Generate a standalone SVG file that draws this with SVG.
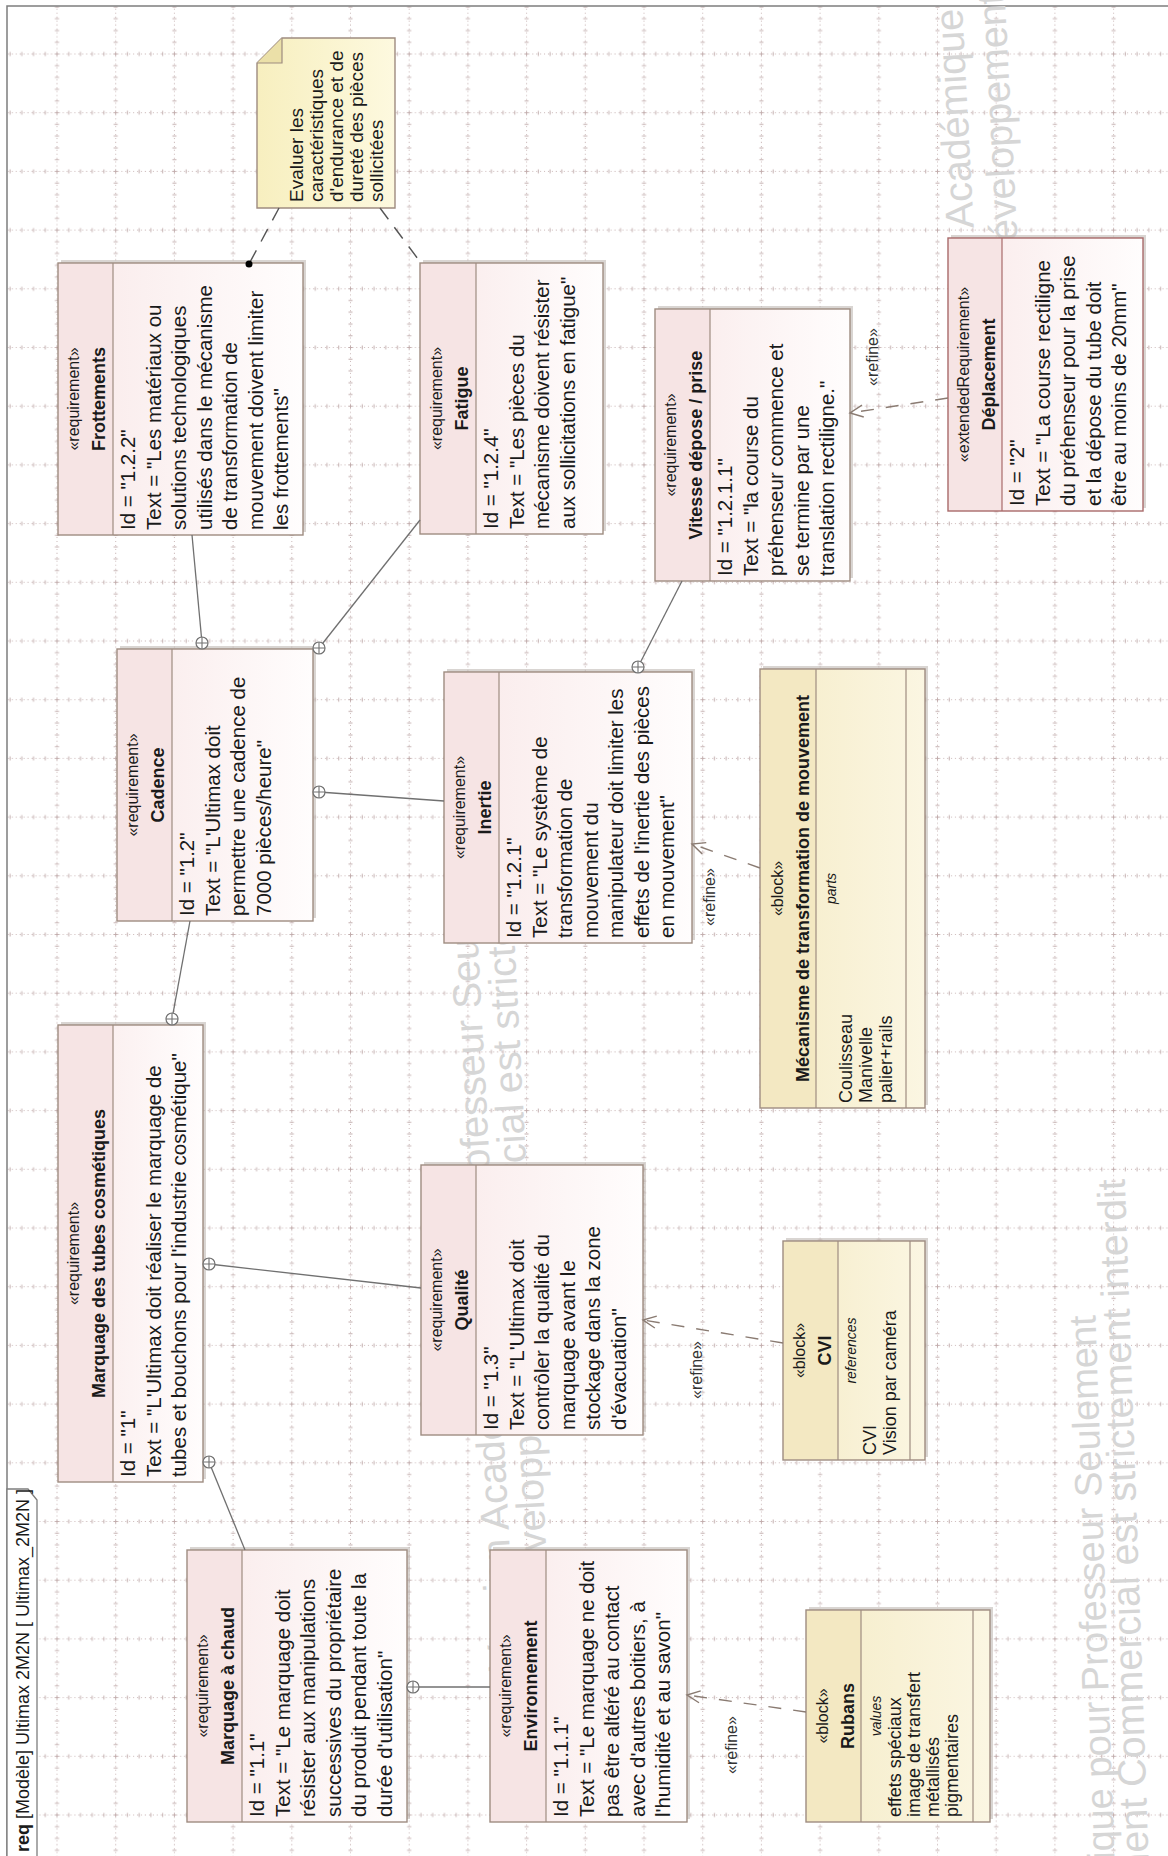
<svg xmlns="http://www.w3.org/2000/svg" width="1168" height="1856" viewBox="0 0 1168 1856">
<defs>
<style>
text{font-family:"Liberation Sans",Arial,sans-serif;fill:#1a1a1a}
.st{font-size:16px;text-anchor:middle}
.nm{font-size:18px;font-weight:bold;text-anchor:middle}
.bd{font-size:20.5px}
.bi{font-size:18px}
.cl{font-size:14px;font-style:italic;text-anchor:middle}
.nt{font-size:19px}
.rf{font-size:16px;text-anchor:middle;fill:#333}
.tab{font-size:18px}
.wm{font-size:39.5px;fill:#d6d6d6}
.box{stroke:#9e8c80;stroke-width:1.4;fill:none}
.sh{fill:#b9b2ad;opacity:.55}
.req{fill:url(#gReq)}
.reqT{fill:#f6e4e4}
.blk{fill:url(#gBlk)}
.blkT{fill:#f3e8c2}
.sep{stroke:#9e8c80;stroke-width:1.2}
.own{stroke:#707070;stroke-width:1.3;fill:none}
.ref{stroke:#8a7b72;stroke-width:1.4;fill:none;stroke-dasharray:13 12}
.anc{stroke:#555;stroke-width:1.4;fill:none;stroke-dasharray:14 10}
.cp{fill:#fff;stroke:#707070;stroke-width:1.2}
</style>
<pattern id="grid" patternUnits="userSpaceOnUse" x="27.65" y="24.65" width="58.7" height="58.7">
<path d="M0,29.35H58.7M29.35,0V58.7" stroke="#cbb9b9" stroke-width="1" stroke-dasharray="1 2.9" fill="none"/>
<path d="M5.87,27.35v4M17.61,27.35v4M41.09,27.35v4M52.83,27.35v4M27.35,5.87h4M27.35,17.61h4M27.35,41.09h4M27.35,52.83h4M27.35,29.35h4M29.35,27.35v4" stroke="#c2adad" stroke-width="1" fill="none"/>
</pattern>
<linearGradient id="gReq" x1="0" y1="0" x2="0" y2="1">
<stop offset="0" stop-color="#f9e9e9"/><stop offset="1" stop-color="#fffdfd"/>
</linearGradient>
<linearGradient id="gBlk" x1="0" y1="0" x2="0" y2="1">
<stop offset="0" stop-color="#f5ecc8"/><stop offset="1" stop-color="#fbf6e2"/>
</linearGradient>
<linearGradient id="gNote" x1="0" y1="0" x2="0" y2="1">
<stop offset="0" stop-color="#f7efbf"/><stop offset="1" stop-color="#fdf9df"/>
</linearGradient>
<marker id="arr" markerWidth="16" markerHeight="14" refX="14" refY="7" orient="auto" markerUnits="userSpaceOnUse">
<path d="M1,1L14,7L1,13" fill="none" stroke="#8a7b72" stroke-width="1.4"/>
</marker>
<g id="cplus"><circle r="6" class="cp"/><path d="M-6,0H6M0,-6V6" stroke="#707070" stroke-width="1.1"/></g>
</defs>
<rect width="1168" height="1856" fill="#fff"/>
<rect x="7" y="6" width="1161" height="1850" fill="url(#grid)"/>
<g transform="translate(0,1856) rotate(-90)">
<g id="frame">
<rect x="-10" y="7" width="1860" height="1200" fill="none" stroke="#7d7d7d" stroke-width="1.5"/>
<path d="M-10,37H356L367,28V7H-10Z" fill="#fff" stroke="#7d7d7d" stroke-width="1.3"/>
<text class="tab" x="4" y="29"><tspan font-weight="bold">req</tspan> [Modèle] Ultimax 2M2N [ Ultimax_2M2N ]</text>
</g>
<g id="watermark">
<text class="wm" transform="translate(186,516) rotate(-3)">Version Académique pour Professeur Seulement</text>
<text class="wm" transform="translate(255,549) rotate(-3)">Développement Commercial est strictement interdit</text>
<text class="wm" transform="translate(-278,1124) rotate(-2)" style="font-size:38px">Version Académique pour Professeur Seulement</text>
<text class="wm" transform="translate(-218,1156) rotate(-2)">Développement Commercial est strictement interdit</text>
<text class="wm" transform="translate(1488,981) rotate(-3)">Version Académique pour Professeur Seulement</text>
<text class="wm" transform="translate(1587,1019) rotate(-3)">Développement Commercial est strictement interdit</text>
</g>

<g id="frottements">
<rect class="sh" x="1324" y="61" width="272" height="245"/>
<rect class="req" x="1321" y="58" width="272" height="245"/>
<rect class="reqT" x="1321.7" y="58.7" width="270.6" height="54.3"/>
<rect class="box" x="1321" y="58" width="272" height="245"/>
<line class="sep" x1="1321" y1="113" x2="1593" y2="113"/>
<text class="st" x="1457" y="79">«requirement»</text>
<text class="nm" x="1457" y="105">Frottements</text>
<text class="bd" x="1326" y="135">Id = "1.2.2"<tspan x="1326" dy="25.5">Text = "Les matériaux ou</tspan><tspan x="1326" dy="25.5">solutions technologiques</tspan><tspan x="1326" dy="25.5">utilisés dans le mécanisme</tspan><tspan x="1326" dy="25.5">de transformation de</tspan><tspan x="1326" dy="25.5">mouvement doivent limiter</tspan><tspan x="1326" dy="25.5">les frottements"</tspan></text>
</g>

<g id="fatigue">
<rect class="sh" x="1325" y="423" width="271" height="183"/>
<rect class="req" x="1322" y="420" width="271" height="183"/>
<rect class="reqT" x="1322.7" y="420.7" width="269.6" height="55.3"/>
<rect class="box" x="1322" y="420" width="271" height="183"/>
<line class="sep" x1="1322" y1="476" x2="1593" y2="476"/>
<text class="st" x="1457.5" y="442">«requirement»</text>
<text class="nm" x="1457.5" y="468">Fatigue</text>
<text class="bd" x="1327" y="498">Id = "1.2.4"<tspan x="1327" dy="25.5">Text = "Les pièces du</tspan><tspan x="1327" dy="25.5">mécanisme doivent résister</tspan><tspan x="1327" dy="25.5">aux sollicitations en fatigue"</tspan></text>
</g>

<g id="vitesse">
<rect class="sh" x="1278" y="658" width="272" height="195"/>
<rect class="req" x="1275" y="655" width="272" height="195"/>
<rect class="reqT" x="1275.7" y="655.7" width="270.6" height="54.3"/>
<rect class="box" x="1275" y="655" width="272" height="195"/>
<line class="sep" x1="1275" y1="710" x2="1547" y2="710"/>
<text class="st" x="1411" y="676">«requirement»</text>
<text class="nm" x="1411" y="702">Vitesse dépose / prise</text>
<text class="bd" x="1280" y="732">Id = "1.2.1.1"<tspan x="1280" dy="25.5">Text = "la course du</tspan><tspan x="1280" dy="25.5">préhenseur commence et</tspan><tspan x="1280" dy="25.5">se termine par une</tspan><tspan x="1280" dy="25.5">translation rectiligne."</tspan></text>
</g>

<g id="deplacement">
<rect class="sh" x="1348" y="951" width="273" height="195"/>
<rect class="req" x="1345" y="948" width="273" height="195"/>
<rect class="reqT" x="1345.7" y="948.7" width="271.6" height="53.3"/>
<rect class="box" x="1345" y="948" width="273" height="195" style="stroke:#a86a6a"/>
<line class="sep" x1="1345" y1="1002" x2="1618" y2="1002" style="stroke:#a86a6a"/>
<text class="st" x="1481.5" y="969">«extendedRequirement»</text>
<text class="nm" x="1481.5" y="995">Déplacement</text>
<text class="bd" x="1350" y="1024">Id = "2"<tspan x="1350" dy="25.5">Text = "La course rectiligne</tspan><tspan x="1350" dy="25.5">du préhenseur pour la prise</tspan><tspan x="1350" dy="25.5">et la dépose du tube doit</tspan><tspan x="1350" dy="25.5">être au moins de 20mm"</tspan></text>
</g>

<g id="cadence">
<rect class="sh" x="938" y="120" width="272" height="196"/>
<rect class="req" x="935" y="117" width="272" height="196"/>
<rect class="reqT" x="935.7" y="117.7" width="270.6" height="54.3"/>
<rect class="box" x="935" y="117" width="272" height="196"/>
<line class="sep" x1="935" y1="172" x2="1207" y2="172"/>
<text class="st" x="1071" y="138">«requirement»</text>
<text class="nm" x="1071" y="164">Cadence</text>
<text class="bd" x="940" y="194">Id = "1.2"<tspan x="940" dy="25.5">Text = "L'Ultimax doit</tspan><tspan x="940" dy="25.5">permettre une cadence de</tspan><tspan x="940" dy="25.5">7000 pièces/heure"</tspan></text>
</g>

<g id="inertie">
<rect class="sh" x="916" y="447" width="271" height="248"/>
<rect class="req" x="913" y="444" width="271" height="248"/>
<rect class="reqT" x="913.7" y="444.7" width="269.6" height="54.3"/>
<rect class="box" x="913" y="444" width="271" height="248"/>
<line class="sep" x1="913" y1="499" x2="1184" y2="499"/>
<text class="st" x="1048.5" y="465">«requirement»</text>
<text class="nm" x="1048.5" y="491">Inertie</text>
<text class="bd" x="918" y="521">Id = "1.2.1"<tspan x="918" dy="25.5">Text = "Le système de</tspan><tspan x="918" dy="25.5">transformation de</tspan><tspan x="918" dy="25.5">mouvement du</tspan><tspan x="918" dy="25.5">manipulateur doit limiter les</tspan><tspan x="918" dy="25.5">effets de l'inertie des pièces</tspan><tspan x="918" dy="25.5">en mouvement"</tspan></text>
</g>

<g id="marquage-tubes">
<rect class="sh" x="377" y="61" width="457" height="145"/>
<rect class="req" x="374" y="58" width="457" height="145"/>
<rect class="reqT" x="374.7" y="58.7" width="455.6" height="54.3"/>
<rect class="box" x="374" y="58" width="457" height="145"/>
<line class="sep" x1="374" y1="113" x2="831" y2="113"/>
<text class="st" x="602.5" y="79">«requirement»</text>
<text class="nm" x="602.5" y="105">Marquage des tubes cosmétiques</text>
<text class="bd" x="379" y="135">Id = "1"<tspan x="379" dy="25.5">Text = "L'Ultimax doit réaliser le marquage de</tspan><tspan x="379" dy="25.5">tubes et bouchons pour l'industrie cosmétique"</tspan></text>
</g>

<g id="qualite">
<rect class="sh" x="424" y="424" width="270" height="222"/>
<rect class="req" x="421" y="421" width="270" height="222"/>
<rect class="reqT" x="421.7" y="421.7" width="268.6" height="54.3"/>
<rect class="box" x="421" y="421" width="270" height="222"/>
<line class="sep" x1="421" y1="476" x2="691" y2="476"/>
<text class="st" x="556" y="442">«requirement»</text>
<text class="nm" x="556" y="468">Qualité</text>
<text class="bd" x="426" y="498">Id = "1.3"<tspan x="426" dy="25.5">Text = "L'Ultimax doit</tspan><tspan x="426" dy="25.5">contrôler la qualité du</tspan><tspan x="426" dy="25.5">marquage avant le</tspan><tspan x="426" dy="25.5">stockage dans la zone</tspan><tspan x="426" dy="25.5">d'évacuation"</tspan></text>
</g>

<g id="marquage-chaud">
<rect class="sh" x="37" y="190" width="272" height="220"/>
<rect class="req" x="34" y="187" width="272" height="220"/>
<rect class="reqT" x="34.7" y="187.7" width="270.6" height="54.3"/>
<rect class="box" x="34" y="187" width="272" height="220"/>
<line class="sep" x1="34" y1="242" x2="306" y2="242"/>
<text class="st" x="170" y="208">«requirement»</text>
<text class="nm" x="170" y="234">Marquage à chaud</text>
<text class="bd" x="39" y="264">Id = "1.1"<tspan x="39" dy="25.5">Text = "Le marquage doit</tspan><tspan x="39" dy="25.5">résister aux manipulations</tspan><tspan x="39" dy="25.5">successives du propriétaire</tspan><tspan x="39" dy="25.5">du produit pendant toute la</tspan><tspan x="39" dy="25.5">durée d'utilisation"</tspan></text>
</g>

<g id="environnement">
<rect class="sh" x="37" y="493" width="272" height="197"/>
<rect class="req" x="34" y="490" width="272" height="197"/>
<rect class="reqT" x="34.7" y="490.7" width="270.6" height="55.3"/>
<rect class="box" x="34" y="490" width="272" height="197"/>
<line class="sep" x1="34" y1="546" x2="306" y2="546"/>
<text class="st" x="170" y="511">«requirement»</text>
<text class="nm" x="170" y="537">Environnement</text>
<text class="bd" x="39" y="568">Id = "1.1.1"<tspan x="39" dy="25.5">Text = "Le marquage ne doit</tspan><tspan x="39" dy="25.5">pas être altéré au contact</tspan><tspan x="39" dy="25.5">avec d'autres boitiers, à</tspan><tspan x="39" dy="25.5">l'humidité et au savon"</tspan></text>
</g>

<g id="mecanisme">
<rect class="sh" x="751" y="763" width="439" height="165"/>
<rect class="blk" x="748" y="760" width="439" height="165"/>
<rect class="blkT" x="748.7" y="760.7" width="437.6" height="55.3"/>
<rect class="box" x="748" y="760" width="439" height="165"/>
<line class="sep" x1="748" y1="816" x2="1187" y2="816"/>
<line class="sep" x1="748" y1="906" x2="1187" y2="906"/>
<text class="st" x="967.5" y="783">«block»</text>
<text class="nm" x="967.5" y="809">Mécanisme de transformation de mouvement</text>
<text class="cl" x="967.5" y="836">parts</text>
<text class="bi" x="753" y="852">Coulisseau<tspan x="753" dy="20">Manivelle</tspan><tspan x="753" dy="20">palier+rails</tspan></text>
</g>

<g id="cvi">
<rect class="sh" x="399" y="786" width="219" height="142"/>
<rect class="blk" x="396" y="783" width="219" height="142"/>
<rect class="blkT" x="396.7" y="783.7" width="217.6" height="54.3"/>
<rect class="box" x="396" y="783" width="219" height="142"/>
<line class="sep" x1="396" y1="838" x2="615" y2="838"/>
<line class="sep" x1="396" y1="910" x2="615" y2="910"/>
<text class="st" x="505.5" y="805">«block»</text>
<text class="nm" x="505.5" y="831">CVI</text>
<text class="cl" x="505.5" y="856">references</text>
<text class="bi" x="401" y="876">CVI<tspan x="401" dy="20">Vision par caméra</tspan></text>
</g>

<g id="rubans">
<rect class="sh" x="37" y="809" width="212" height="184"/>
<rect class="blk" x="34" y="806" width="212" height="184"/>
<rect class="blkT" x="34.7" y="806.7" width="210.6" height="54.3"/>
<rect class="box" x="34" y="806" width="212" height="184"/>
<line class="sep" x1="34" y1="861" x2="246" y2="861"/>
<line class="sep" x1="34" y1="973" x2="246" y2="973"/>
<text class="st" x="140" y="828">«block»</text>
<text class="nm" x="140" y="854">Rubans</text>
<text class="cl" x="140" y="881">values</text>
<text class="bi" x="39" y="901">effets spéciaux<tspan x="39" dy="19">image de transfert</tspan><tspan x="39" dy="19">métallisés</tspan><tspan x="39" dy="19">pigmentaires</tspan></text>
</g>

<g id="note">
<path d="M1648,257H1793L1818,282V395H1648Z" fill="url(#gNote)" stroke="#9e8c80" stroke-width="1.4"/>
<path d="M1793,257V282H1818" fill="#ebe0a8" stroke="#9e8c80" stroke-width="1.2"/>
<text class="nt" x="1654" y="303">Evaluer les<tspan x="1654" dy="20">caractéristiques</tspan><tspan x="1654" dy="20">d'endurance et de</tspan><tspan x="1654" dy="20">dureté des pièces</tspan><tspan x="1654" dy="20">sollicitées</tspan></text>
</g>

<g id="connectors">
<line class="own" x1="1321" y1="192" x2="1213" y2="202"/>
<line class="own" x1="1336" y1="420" x2="1208" y2="319"/>
<line class="own" x1="1055" y1="444" x2="1064" y2="319"/>
<line class="own" x1="1275" y1="682" x2="1189" y2="638"/>
<line class="own" x1="935" y1="190" x2="837" y2="172"/>
<line class="own" x1="568" y1="421" x2="592" y2="209"/>
<line class="own" x1="306" y1="245" x2="394" y2="209"/>
<line class="own" x1="169" y1="490" x2="169" y2="413"/>
<use href="#cplus" x="1213" y="202"/>
<use href="#cplus" x="1208" y="319"/>
<use href="#cplus" x="1064" y="319"/>
<use href="#cplus" x="1189" y="638"/>
<use href="#cplus" x="837" y="172"/>
<use href="#cplus" x="592" y="209"/>
<use href="#cplus" x="394" y="209"/>
<use href="#cplus" x="169" y="413"/>
<line class="ref" x1="1458" y1="948" x2="1443" y2="850" marker-end="url(#arr)"/>
<line class="ref" x1="988" y1="760" x2="1012" y2="692" marker-end="url(#arr)"/>
<line class="ref" x1="513" y1="783" x2="536" y2="643" marker-end="url(#arr)"/>
<line class="ref" x1="144" y1="806" x2="161" y2="687" marker-end="url(#arr)"/>
<text class="rf" x="1499" y="878">«refine»</text>
<text class="rf" x="959" y="715">«refine»</text>
<text class="rf" x="486" y="702">«refine»</text>
<text class="rf" x="111" y="737">«refine»</text>
<line class="anc" x1="1648" y1="279" x2="1592" y2="249"/>
<line class="anc" x1="1648" y1="380" x2="1593" y2="421"/>
<circle cx="1592" cy="249" r="3.5" fill="#000"/>
</g>
</g>
</svg>
